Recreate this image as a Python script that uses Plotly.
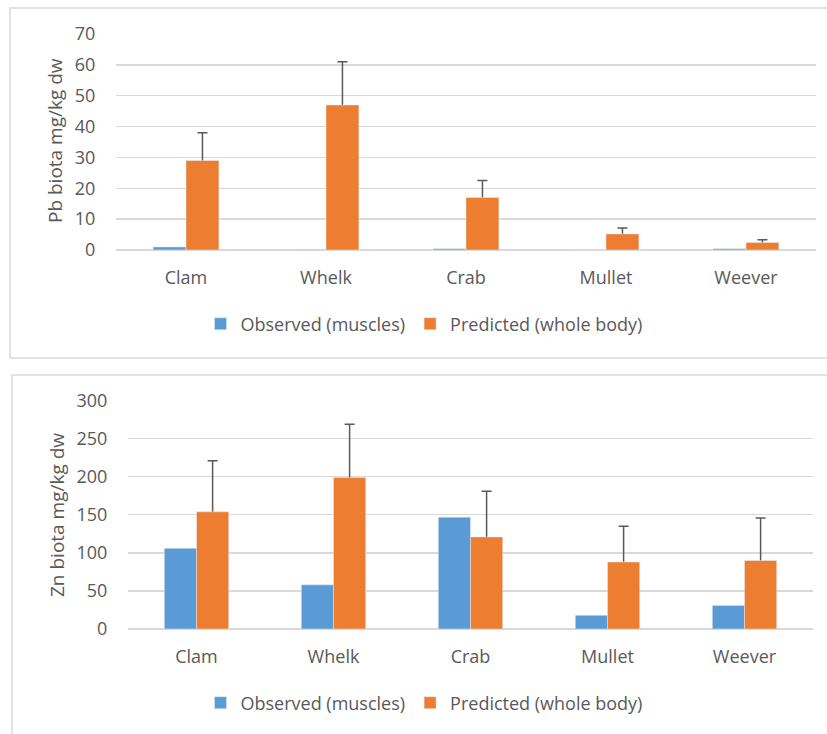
import plotly.graph_objects as go

W, H = 827, 734

categories = ["Clam", "Whelk", "Crab", "Mullet", "Weever"]

pb_observed = [1.0, 0.2, 0.4, 0.1, 0.4]
pb_predicted = [29.0, 47.0, 17.0, 5.2, 2.4]
pb_pred_err = [9.0, 14.0, 5.5, 1.9, 0.9]

zn_observed = [106, 58, 147, 18, 31]
zn_predicted = [154, 199, 121, 88, 90]
zn_pred_err = [67, 70, 60, 47, 56]

obs_name = "Observed (muscles)"
pred_name = "Predicted (whole body)"
pb_title = "Pb biota mg/kg dw"
zn_title = "Zn biota mg/kg dw"

BLUE = "#5B9BD5"
ORANGE = "#ED7D31"
TXT = "#595959"
GRID = "#D9D9D9"
FONT = "Open Sans"


def px(x):
    return x / W


def py(y):
    return 1 - y / H


fig = go.Figure()

err_style = dict(type="data", symmetric=True, color=TXT, thickness=1.5, width=5)


def add_panel(xa, ya, leg, observed, predicted, err):
    fig.add_trace(go.Bar(x=categories, y=observed, name=obs_name, marker_color=BLUE,
                         offsetgroup="obs", xaxis=xa, yaxis=ya, legend=leg))
    # error bars only (drawn beneath the predicted bars, so only the upper part shows)
    fig.add_trace(go.Bar(x=categories, y=predicted, name=pred_name,
                         marker=dict(color="rgba(0,0,0,0)", line=dict(width=0)),
                         error_y=dict(array=err, **err_style), offsetgroup="pred",
                         showlegend=False, hoverinfo="skip", xaxis=xa, yaxis=ya, legend=leg))
    fig.add_trace(go.Bar(x=categories, y=predicted, name=pred_name, marker_color=ORANGE,
                         offsetgroup="pred", xaxis=xa, yaxis=ya, legend=leg))


add_panel("x", "y", "legend", pb_observed, pb_predicted, pb_pred_err)
add_panel("x2", "y2", "legend2", zn_observed, zn_predicted, zn_pred_err)

tickfont = dict(family=FONT, size=18, color=TXT)

xaxis_common = dict(showgrid=False, showline=False, zeroline=False, tickfont=tickfont,
                    ticks="outside", ticklen=11, tickcolor="rgba(0,0,0,0)", fixedrange=True,
                    automargin=False)
yaxis_common = dict(showgrid=True, gridcolor=GRID, gridwidth=1.3, zeroline=True,
                    zerolinecolor=GRID, zerolinewidth=1.3, showline=False, tickfont=tickfont,
                    ticks="outside", ticklen=16, tickcolor="rgba(0,0,0,0)", fixedrange=True,
                    automargin=False)

legend_common = dict(orientation="h", xanchor="center", yanchor="middle",
                     font=dict(family=FONT, size=18, color=TXT), bgcolor="rgba(0,0,0,0)",
                     itemclick=False, itemdoubleclick=False, itemwidth=30)

fig.update_layout(
    width=W, height=H,
    margin=dict(l=0, r=0, t=0, b=0, pad=0, autoexpand=False),
    paper_bgcolor="white", plot_bgcolor="white",
    barmode="group", bargap=0.53, bargroupgap=0,
    font=dict(family=FONT, color=TXT),
    hovermode=False,
    xaxis=dict(domain=[px(116), px(816)], anchor="y", **xaxis_common),
    yaxis=dict(domain=[py(250), py(34)], anchor="x", range=[0, 70], dtick=10, **yaxis_common),
    xaxis2=dict(domain=[px(128), px(813)], anchor="y2", **xaxis_common),
    yaxis2=dict(domain=[py(629), py(400.7)], anchor="x2", range=[0, 300], dtick=50, **yaxis_common),
    legend=dict(x=px(424), y=py(324), **legend_common),
    legend2=dict(x=px(424), y=py(703), **legend_common),
    shapes=[
        dict(type="rect", xref="paper", yref="paper", x0=px(10), x1=px(840), y0=py(8), y1=py(358),
             line=dict(color=GRID, width=1.5), fillcolor="rgba(0,0,0,0)", layer="below"),
        dict(type="rect", xref="paper", yref="paper", x0=px(12), x1=px(840), y0=py(375), y1=py(750),
             line=dict(color=GRID, width=1.5), fillcolor="rgba(0,0,0,0)", layer="below"),
    ],
    annotations=[
        dict(text=pb_title, xref="paper", yref="paper", x=px(55), y=py(141), textangle=-90,
             showarrow=False, xanchor="center", yanchor="middle",
             font=dict(family=FONT, size=19, color=TXT)),
        dict(text=zn_title, xref="paper", yref="paper", x=px(57), y=py(515), textangle=-90,
             showarrow=False, xanchor="center", yanchor="middle",
             font=dict(family=FONT, size=19, color=TXT)),
    ],
)

# remove the default page margin so the 827x734 figure fills the window exactly
fig.write_html(
    "out.html",
    config={"displayModeBar": False, "staticPlot": True},
    post_script="document.body.style.margin='0';document.body.style.overflow='hidden';",
)
